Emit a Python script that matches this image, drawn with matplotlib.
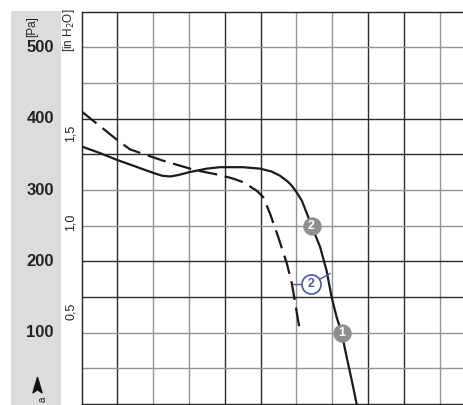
import matplotlib
matplotlib.use("Agg")
import matplotlib.pyplot as plt
from matplotlib.patches import Rectangle
from matplotlib.path import Path

plt.rcParams['font.family'] = ['Liberation Sans Narrow', 'Liberation Sans', 'DejaVu Sans']

# values (x in grid cells, pressure in Pa)
solid_x = [0, 0.5, 1.0, 1.5, 2.0, 2.25, 2.47, 2.7, 3.0, 3.5, 3.86, 4.5, 4.98, 5.3, 5.54,
           5.75, 5.87, 6.0, 6.15, 6.33, 6.42, 6.66, 6.84, 6.98, 7.12, 7.26, 7.40, 7.54, 7.68]
solid_pa = [361, 352, 342, 333, 324, 320, 319, 321, 325, 330, 332, 332, 330, 326, 320,
            312, 306, 297, 285, 262, 250, 220, 187, 150, 122, 100, 66, 34, 0]

dash_x = [0, 0.5, 1.02, 1.35, 1.58, 2.28, 3.16, 3.86, 4.23, 4.51, 4.89, 5.07, 5.26,
          5.49, 5.73, 5.87, 6.10]
dash_pa = [410, 390, 369, 357, 353, 341, 328, 321, 316, 311, 299, 290, 267,
           234, 197, 169, 101]

pa_ticks = [100, 200, 300, 400, 500]
inh2o_ticks = [0.5, 1.0, 1.5]
inh2o_labels = ['0,5', '1,0', '1,5']

gray_marks_x = [7.26, 6.42]
gray_marks_pa = [100, 250]
gray_marks_txt = ['1', '2']

blue_x, blue_pa = 6.40, 168
blue_leaders = [(5.91, 168), (6.94, 183)]

W, H = 464, 405
fig = plt.figure(figsize=(W / 100, H / 100), dpi=100)

# overlay in pixel coordinates for the side panel
ov = fig.add_axes([0, 0, 1, 1])
ov.set_xlim(0, W)
ov.set_ylim(H, 0)
ov.axis('off')
ov.add_patch(Rectangle((11, 11), 50, H - 11, color='#dcdcdc', lw=0))

x0, y_top, y_bot, cell = 81.7, 11.7, 404.0, 35.8
ax = fig.add_axes([x0 / W, (H - y_bot) / H, (W - x0) / W, (y_bot - y_top) / H])
ax.set_xlim(0, (W - x0) / cell)
ax.set_ylim(0, 550)
ax.set_xticks([])
ax.set_yticks([])
ax.spines['right'].set_visible(False)
for s in ['left', 'top', 'bottom']:
    ax.spines[s].set_color('#222222')
    ax.spines[s].set_linewidth(1.0)

for i in range(1, 11):
    c = '#2a2a2a' if (i // 2) % 2 == 0 else '#939393'
    ax.axvline(i, color=c, lw=1.0, zorder=1)
for j in range(1, 11):
    c = '#2a2a2a' if ((j + 1) // 2) % 2 == 0 else '#939393'
    ax.axhline(j * 50, color=c, lw=1.0, zorder=1)

ax.plot(solid_x, solid_pa, color='#1a1a1a', lw=1.6, zorder=3)
ax.plot(dash_x, dash_pa, color='#1a1a1a', lw=1.6, zorder=3, dashes=(8.5, 3.5))

# markers
ax.scatter(gray_marks_x, gray_marks_pa, s=175, color='#8e8e8e', zorder=5, lw=0)
for mx, mp, t in zip(gray_marks_x, gray_marks_pa, gray_marks_txt):
    ax.text(mx, mp, t, color='white', fontsize=9, fontweight='bold',
            ha='center', va='center', zorder=6)

blue = '#4a58a8'
for lx, lp in blue_leaders:
    ax.plot([lx, blue_x], [lp, blue_pa], color=blue, lw=1.0, zorder=4)
ax.scatter([blue_x], [blue_pa], s=190, facecolor='white', edgecolor=blue, lw=1.2, zorder=5)
ax.text(blue_x, blue_pa, '2', color=blue, fontsize=9, fontweight='bold',
        ha='center', va='center', zorder=6)

# left labels (pixel coordinates of the overlay)
pa_per_px = 550 / (y_bot - y_top)
for p in pa_ticks:
    ov.text(54, y_bot - p / pa_per_px, str(p), ha='right', va='center',
            fontsize=12, fontweight='bold', color='#222222')
for v, lab in zip(inh2o_ticks, inh2o_labels):
    ov.text(71, y_bot - v * 249.09 / pa_per_px - 4, lab, rotation=90, ha='center',
            va='center', fontsize=9, color='#222222')
ov.text(32, 27, '[Pa]', rotation=90, ha='center', va='center', fontsize=8.5, color='#222222')
ov.text(69, 30, '[in H$_2$O]', rotation=90, ha='center', va='center', fontsize=8.5,
        color='#222222')

arrow = Path([(0, 1), (0.5, -0.7), (0, -0.35), (-0.5, -0.7), (0, 1)],
             [Path.MOVETO, Path.LINETO, Path.LINETO, Path.LINETO, Path.CLOSEPOLY])
ov.plot([36.7], [386], marker=arrow, markersize=13, color='#111111', lw=0)
ov.text(43, 399, 'a', rotation=90, ha='center', va='center', fontsize=7, color='#222222')

fig.savefig('out.png', dpi=100)
